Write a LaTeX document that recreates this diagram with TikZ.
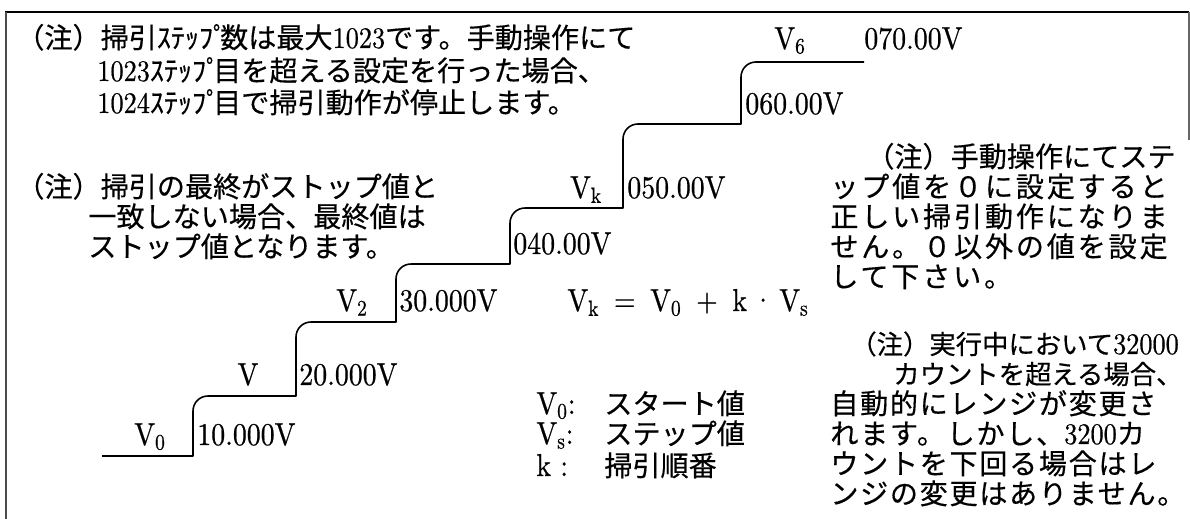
\documentclass[tikz,border=0pt]{standalone}
\usepackage{fontspec}
\usepackage{tikz}
\newfontfamily\jp{Noto Sans CJK JP}[FakeBold=0.4]
\newfontfamily\jpw{Noto Sans CJK JP}[FakeBold=0.4, LetterSpace=10]
\newfontfamily\jpn{Noto Sans CJK JP}[FakeBold=0.4, LetterSpace=6]
\newfontfamily\latn{lmroman10-regular.otf}[FakeBold=0.6, FakeStretch=0.88]
\newcommand\dg[1]{{\latn\fontsize{17}{18}\selectfont #1}}
\newcommand\sub[1]{\textsubscript{#1}}
\newcommand\stp{ｽﾃｯﾌﾟ\kern-0.25em}

\tikzset{
  jnote/.style={font=\jp\fontsize{16}{18}\selectfont, anchor=base west, inner sep=0pt},
  jwide/.style={jnote, font=\jpw\fontsize{16}{18}\selectfont},
  jtight/.style={jnote, font=\jpn\fontsize{16}{18}\selectfont},
  jsmall/.style={jnote, font=\jp\fontsize{15}{18}\selectfont},
  val/.style={font=\latn\fontsize{18}{20}\selectfont, anchor=base west, inner sep=0pt},
  lvl/.style={val, anchor=base},
  stair/.style={line width=0.9pt, line join=round},
}

\begin{document}
\begin{tikzpicture}[x=0.02cm, y=-0.02cm]
  \useasboundingbox (0,0) rectangle (1190,519);
  % frame
  \draw[line width=1.1pt] (5,12) -- (1189,12);
  \draw[line width=0.7pt, black!70] (6,12) -- (6,519);
  \draw[line width=0.6pt, black!60] (1189,12) -- (1189,140);

  % staircase
  \draw[stair] (102,456) -- (193,456) -- (193,411)
    arc[start angle=180, end angle=270, radius=15] -- (296,396) -- (296,337)
    arc[start angle=180, end angle=270, radius=15] -- (396,322) -- (396,279)
    arc[start angle=180, end angle=270, radius=15] -- (510,264) -- (510,223)
    arc[start angle=180, end angle=270, radius=15] -- (623,208) -- (623,139)
    arc[start angle=180, end angle=270, radius=15] -- (741,124) -- (741,77)
    arc[start angle=180, end angle=270, radius=15] -- (864,62);

  % step names
  \node[lvl] (v0) at (150,445) {V\sub{0}};
  \node[lvl] (v1) at (248,385) {V};
  \node[lvl] (v2) at (352,311) {V\sub{2}};
  \node[lvl] (vk) at (586,198) {V\sub{k}};
  \node[lvl] (v6) at (790,49) {V\sub{6}};

  % step values
  \node[val] (s0) at (197,445) {10.000V};
  \node[val] (s1) at (299,385) {20.000V};
  \node[val] (s2) at (399,311) {30.000V};
  \node[val] (s3) at (513,254) {040.00V};
  \node[val] (s4) at (627,198) {050.00V};
  \node[val] (s5) at (745,114) {060.00V};
  \node[val] (s6) at (864,49) {070.00V};

  % formula and key
  \node[val] (eq) at (567,311)
    {V\sub{k} \,=\, V\sub{0} \,+\, k\,\textperiodcentered\,V\sub{s}};
  \foreach \sym/\txt/\yy [count=\i] in
      {V\sub{0}:/スタート値/414, V\sub{s}:/ステップ値/444, k\ :/掃引順番/476}{
    \node[val] (key\i) at (536,\yy) {\sym};
    \node[jnote] (keytxt\i) at (604,\yy) {\txt};
  }

  % note: step count
  \node[jnote] (na1) at (16,48) {（注）掃引\stp 数は最大\dg{1023}です。手動操作にて};
  \node[jnote] (na2) at (97,81) {\dg{1023}\stp 目を超える設定を行った場合、};
  \node[jnote] (na3) at (97,113) {\dg{1024}\stp 目で掃引動作が停止します。};

  % note: final value
  \node[jnote] (nb1) at (16,197) {（注）掃引の最終がストップ値と};
  \node[jnote] (nb2) at (88,227) {一致しない場合、最終値は};
  \node[jnote] (nb3) at (88,257) {ストップ値となります。};

  % note: step value zero
  \node[jnote] (nc1) at (866,167) {（注）手動操作にてステ};
  \node[jwide] (nc2) at (830,197) {ップ値を０に設定すると};
  \node[jwide] (nc3) at (830,227) {正しい掃引動作になりま};
  \node[jwide] (nc4) at (830,257) {せん。０以外の値を設定};
  \node[jwide] (nc5) at (830,287) {して下さい。};

  % note: range change
  \node[jsmall] (nd1) at (850,354) {（注）実行中において\dg{32000}};
  \node[jsmall] (nd2) at (893,384) {カウントを超える場合、};
  \node[jtight] (nd3) at (830,414) {自動的にレンジが変更さ};
  \node[jtight] (nd4) at (830,444) {れます。しかし、\dg{3200}カ};
  \node[jtight] (nd5) at (830,474) {ウントを下回る場合はレ};
  \node[jtight] (nd6) at (830,504) {ンジの変更はありません。};
\end{tikzpicture}
\end{document}
